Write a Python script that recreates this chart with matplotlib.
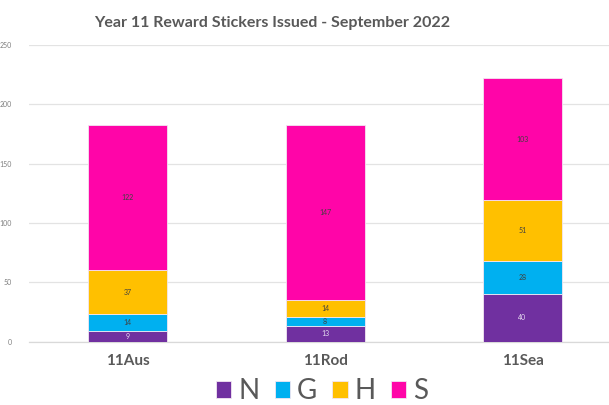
import matplotlib
matplotlib.use("Agg")
import matplotlib.pyplot as plt
import numpy as np

categories = ["11Aus", "11Rod", "11Sea"]
series_names = ["N", "G", "H", "S"]
N = [9, 13, 40]
G = [14, 8, 28]
H = [37, 14, 51]
S = [122, 147, 103]
values = [N, G, H, S]
colors = ["#7030A0", "#00B0F0", "#FFC000", "#FF05A8"]
label_colors = ["#E6DCF0", "#404040", "#404040", "#404040"]
yticks = [0, 50, 100, 150, 200, 250]
title = "Year 11 Reward Stickers Issued - September 2022"

W, Hh = 609, 405
fig = plt.figure(figsize=(W / 100, Hh / 100), dpi=100)
ax = fig.add_axes([28.75 / W, 63.3 / Hh, 592.5 / W, 297 / Hh])

x = np.arange(len(categories))
bottom = np.zeros(len(categories))
handles = []
for name, vals, c, lc in zip(series_names, values, colors, label_colors):
    bars = ax.bar(x, vals, width=0.4, bottom=bottom, color=c, edgecolor="#F2E6F2",
                  linewidth=0.6, label=name, zorder=3)
    handles.append(bars)
    for xi, b, v in zip(x, bottom, vals):
        ax.text(xi, b + v / 2, str(v), ha="center", va="center", fontsize=5,
                color=lc, zorder=4, family="Lato")
    bottom = bottom + np.array(vals)

ax.set_xlim(-0.5, 2.5)
ax.set_ylim(0, 250)
ax.set_yticks(yticks)
ax.set_yticklabels([str(t) for t in yticks], fontsize=5, color="#7F7F7F", family="Lato")
ax.yaxis.grid(True, color="#E3E3E3", linewidth=0.9, zorder=0)
ax.tick_params(axis="y", length=0, pad=12)
ax.tick_params(axis="x", length=0, pad=9)
ax.set_xticks(x)
ax.set_xticklabels(categories, fontsize=11, fontweight="bold", color="#595959", family="Lato")
for s in ["top", "right", "left"]:
    ax.spines[s].set_visible(False)
ax.spines["bottom"].set_color("#D9D9D9")
ax.spines["bottom"].set_linewidth(0.9)

fig.text(272 / W, 1 - 23 / Hh, title, ha="center", va="center", fontsize=11.5,
         fontweight="bold", color="#595959", family="Lato")

leg = fig.legend(handles=handles, labels=series_names, loc="center",
                 bbox_to_anchor=(322 / W, 1 - 391 / Hh), ncol=4, frameon=False,
                 fontsize=20, handlelength=0.55, handleheight=0.55, handletextpad=0.25,
                 columnspacing=0.55, borderpad=0)
for t in leg.get_texts():
    t.set_color("#595959")
    t.set_family("Lato")
    t.set_fontweight("normal")

fig.savefig("out.png", dpi=100)
